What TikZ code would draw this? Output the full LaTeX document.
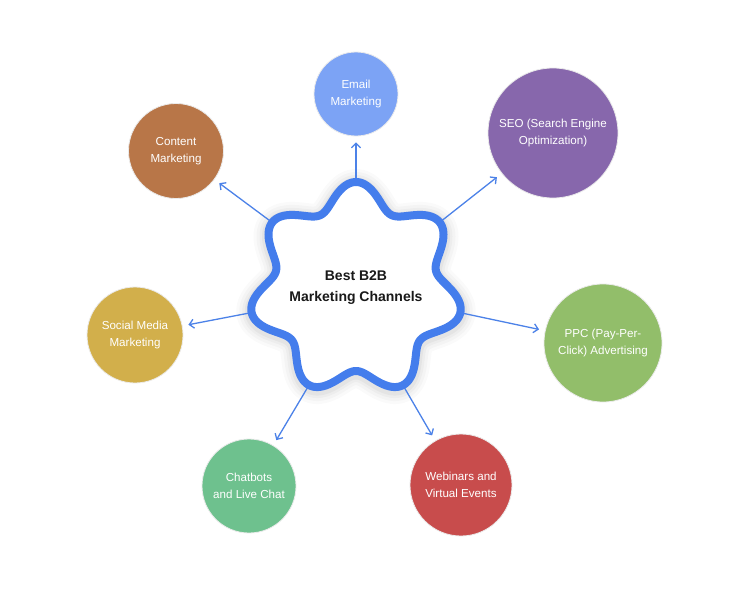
\documentclass[tikz,border=0pt]{standalone}
\usepackage{fontspec}
\setmainfont{Liberation Sans}
\usetikzlibrary{arrows.meta}
\definecolor{hubblue}{RGB}{68,125,236}
\definecolor{arrowblue}{RGB}{76,130,232}
\definecolor{emailc}{RGB}{124,163,245}
\definecolor{seoc}{RGB}{135,103,172}
\definecolor{contentc}{RGB}{184,118,72}
\definecolor{socialc}{RGB}{210,175,75}
\definecolor{ppcc}{RGB}{146,190,106}
\definecolor{chatc}{RGB}{110,193,142}
\definecolor{webc}{RGB}{200,76,76}
\begin{document}
\begin{tikzpicture}[x=1pt,y=-1pt,
  chan/.style={circle, inner sep=0pt, text=white, align=center,
    font=\fontsize{11.6}{17.5}\selectfont, draw=black!8, line width=0.8pt},
  link/.style={draw=arrowblue, line width=1.3pt,
    -{Straight Barb[length=4.5pt,width=9pt]}, shorten >=6pt},
  hubtext/.style={align=center, text=black!90,
    font=\bfseries\fontsize{14}{21}\selectfont}]
\useasboundingbox[fill=white] (0,0) rectangle (750,589);

% soft shadow around the hub
\foreach \w/\o in {30/0.018,24/0.022,18/0.028,13/0.035}{
  \draw[line width=\w pt, black, opacity=\o, line join=round, yshift=-2pt]
    plot[domain=0:360, samples=361]
    ({356+(94.5+12.5*cos(7*(\x-90)))*cos(\x)},{289-(94.5+12.5*cos(7*(\x-90)))*sin(\x)}) -- cycle;
}

% lobe coordinates
\coordinate (l1) at ({356+100*cos(90)},{289-100*sin(90)});
\coordinate (l2) at ({356+100*cos(38.571)},{289-100*sin(38.571)});
\coordinate (l3) at ({356+100*cos(-12.857)},{289-100*sin(-12.857)});
\coordinate (l4) at ({356+100*cos(-64.286)},{289-100*sin(-64.286)});
\coordinate (l5) at ({356+100*cos(-115.714)},{289-100*sin(-115.714)});
\coordinate (l6) at ({356+100*cos(-167.143)},{289-100*sin(-167.143)});
\coordinate (l7) at ({356+100*cos(141.429)},{289-100*sin(141.429)});

% channel circles
\node[chan, fill=emailc, minimum size=84pt] (email) at (356,94) {Email\\Marketing};
\node[chan, fill=seoc, minimum size=130pt] (seo) at (553,133) {SEO (Search Engine\\Optimization)};
\node[chan, fill=ppcc, minimum size=118pt] (ppc) at (603,343) {PPC (Pay-Per-\\Click) Advertising};
\node[chan, fill=webc, minimum size=102pt] (web) at (461,485) {Webinars and\\Virtual Events};
\node[chan, fill=chatc, minimum size=94pt] (chat) at (249,486) {Chatbots\\and Live Chat};
\node[chan, fill=socialc, minimum size=96pt] (social) at (135,335) {Social Media\\Marketing};
\node[chan, fill=contentc, minimum size=95pt] (content) at (176,151) {Content\\Marketing};

% connectors
\draw[link] (l1) -- (email);
\draw[link] (l2) -- (seo);
\draw[link] (l3) -- (ppc);
\draw[link] (l4) -- (web);
\draw[link] (l5) -- (chat);
\draw[link] (l6) -- (social);
\draw[link] (l7) -- (content);

% hub shape
\draw[fill=white, draw=hubblue, line width=8pt, line join=round]
  plot[domain=0:360, samples=361]
  ({356+(94.5+12.5*cos(7*(\x-90)))*cos(\x)},{289-(94.5+12.5*cos(7*(\x-90)))*sin(\x)}) -- cycle;
\node[hubtext] (hub) at (356,288) {Best B2B\\Marketing Channels};
\end{tikzpicture}
\end{document}
